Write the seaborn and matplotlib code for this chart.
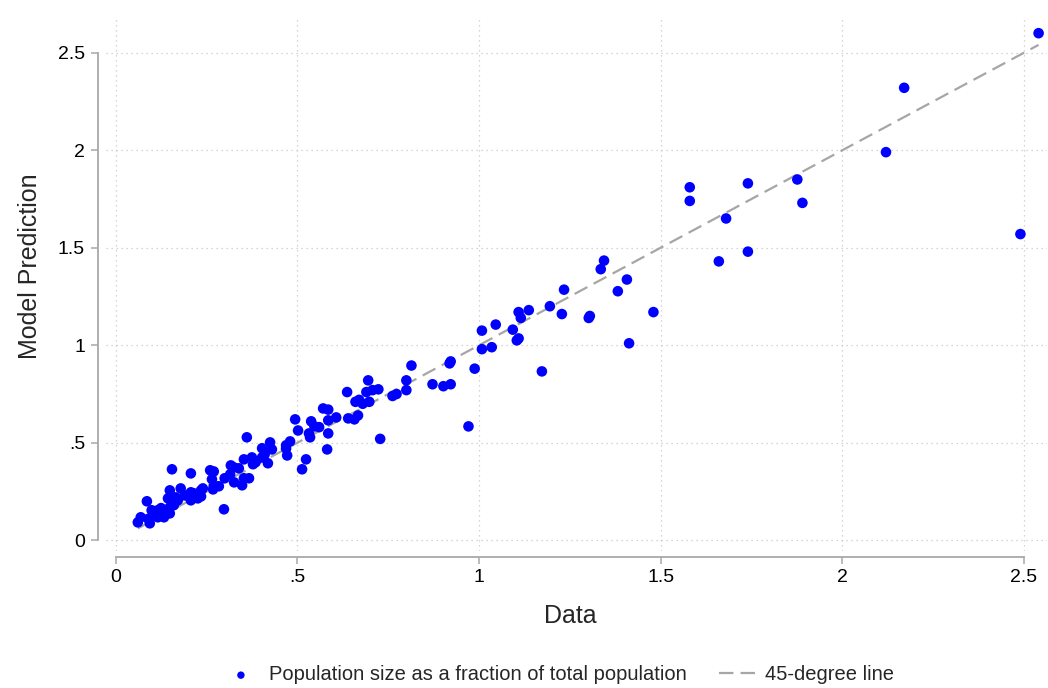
import numpy as np
import pandas as pd
import matplotlib
matplotlib.use("Agg")
import matplotlib.pyplot as plt
import seaborn as sns

# values (data share vs model share)
data_x = [
    0.061, 0.069, 0.094, 0.086, 0.099, 0.116, 0.127, 0.138, 0.149, 0.133, 0.116,
    0.149, 0.144, 0.149, 0.171, 0.179, 0.207, 0.215, 0.235, 0.207, 0.226, 0.155,
    0.207, 0.090, 0.105, 0.160, 0.125, 0.190, 0.235, 0.240, 0.165,
    0.260, 0.270, 0.265, 0.315, 0.300, 0.353, 0.367, 0.326, 0.348, 0.270, 0.284,
    0.268, 0.298, 0.317, 0.325, 0.339, 0.361, 0.425, 0.403, 0.430, 0.469, 0.480,
    0.469, 0.472, 0.375, 0.403, 0.353, 0.419, 0.378, 0.494, 0.502, 0.385, 0.410,
    0.532, 0.535, 0.524, 0.513, 0.538, 0.547, 0.560, 0.585, 0.582, 0.571, 0.585,
    0.607, 0.585, 0.640, 0.657, 0.667, 0.637, 0.660, 0.670, 0.698, 0.680, 0.728,
    0.695, 0.723, 0.707, 0.690, 0.762, 0.773, 0.800, 0.800, 0.814, 0.872, 0.902,
    0.922, 0.922, 0.919, 0.971, 0.988,
    1.008, 1.035, 1.008, 1.046, 1.093, 1.109, 1.104, 1.109, 1.115, 1.137, 1.173,
    1.195, 1.228, 1.234, 1.302, 1.305, 1.335, 1.344, 1.382, 1.407, 1.413, 1.480,
    1.580, 1.580, 1.740, 1.876, 1.890, 1.680, 1.660, 1.740, 2.120, 2.170, 2.490,
    2.540,
]
model_y = [
    0.092, 0.118, 0.087, 0.200, 0.154, 0.154, 0.144, 0.138, 0.138, 0.118, 0.118,
    0.169, 0.215, 0.256, 0.205, 0.266, 0.246, 0.241, 0.256, 0.205, 0.215, 0.364,
    0.343, 0.110, 0.130, 0.180, 0.165, 0.230, 0.225, 0.266, 0.220,
    0.359, 0.353, 0.313, 0.338, 0.318, 0.318, 0.318, 0.297, 0.282, 0.280, 0.277,
    0.261, 0.159, 0.384, 0.374, 0.369, 0.528, 0.502, 0.472, 0.466, 0.487, 0.507,
    0.470, 0.435, 0.425, 0.425, 0.415, 0.395, 0.390, 0.620, 0.563, 0.400, 0.440,
    0.548, 0.528, 0.415, 0.364, 0.610, 0.584, 0.580, 0.548, 0.466, 0.676, 0.670,
    0.630, 0.615, 0.625, 0.620, 0.640, 0.760, 0.710, 0.720, 0.710, 0.700, 0.520,
    0.820, 0.774, 0.770, 0.760, 0.740, 0.750, 0.770, 0.820, 0.896, 0.800, 0.790,
    0.800, 0.917, 0.907, 0.584, 0.880,
    0.980, 0.990, 1.075, 1.106, 1.080, 1.035, 1.025, 1.170, 1.140, 1.180, 0.866,
    1.200, 1.160, 1.285, 1.140, 1.150, 1.390, 1.434, 1.277, 1.337, 1.010, 1.170,
    1.810, 1.740, 1.830, 1.850, 1.730, 1.650, 1.430, 1.480, 1.990, 2.320, 1.570,
    2.600,
]
ticks = [0, 0.5, 1, 1.5, 2, 2.5]
tick_labels = ["0", ".5", "1", "1.5", "2", "2.5"]

df = pd.DataFrame({"data": data_x, "model": model_y})
line = pd.DataFrame({"x": [min(data_x), max(data_x)], "y": [min(data_x), max(data_x)]})

sns.set_style("white")
plt.rcParams["font.family"] = ["Liberation Sans", "DejaVu Sans"]

fig = plt.figure(figsize=(10.48, 6.88), dpi=100)
ax = fig.add_axes([0.1011, 0.1991, 0.8979, 0.7762])

sns.lineplot(data=line, x="x", y="y", ax=ax, color="#a6a6a6", linewidth=1.6,
             dashes=False, linestyle=(0, (6.5, 3.2)), zorder=3, label="45-degree line")
sns.scatterplot(data=df, x="data", y="model", ax=ax, color="#0000ff", s=58,
                edgecolor="none", zorder=4,
                label="Population size as a fraction of total population")

ax.set_xlim(-0.0267, 2.563)
ax.set_ylim(-0.055, 2.683)
ax.set_xticks(ticks)
ax.set_xticklabels(tick_labels)
ax.set_yticks(ticks)
ax.set_yticklabels(tick_labels)
ax.grid(True, linestyle=(0, (1, 3)), color="#c8c8c8", linewidth=0.9)

for side in ["top", "right"]:
    ax.spines[side].set_visible(False)
ax.spines["left"].set_position(("outward", 6))
ax.spines["bottom"].set_position(("outward", 4))
ax.spines["left"].set_bounds(0, 2.5)
ax.spines["bottom"].set_bounds(0, 2.5)
for side in ["left", "bottom"]:
    ax.spines[side].set_color("#a8a8a8")
    ax.spines[side].set_linewidth(1.3)
ax.tick_params(axis="both", direction="out", length=5, width=1.1, color="#a8a8a8",
               labelsize=14, labelcolor="black", pad=4, left=True, bottom=True)

ax.set_xlabel("Data", fontsize=18)
ax.set_ylabel("Model Prediction", fontsize=18)
ax.xaxis.set_label_coords(0.493, -0.1)
ax.yaxis.set_label_coords(-0.068, 0.534)

handles, labels = ax.get_legend_handles_labels()
ax.get_legend().remove()
order = [1, 0]
fig.legend([handles[i] for i in order], [labels[i] for i in order],
           loc="center", bbox_to_anchor=(0.533, 0.019), ncol=2, frameon=False,
           fontsize=14.5, handlelength=1.8, handletextpad=0.5, columnspacing=1.6,
           markerscale=0.7)

plt.savefig("out.png", dpi=100)
